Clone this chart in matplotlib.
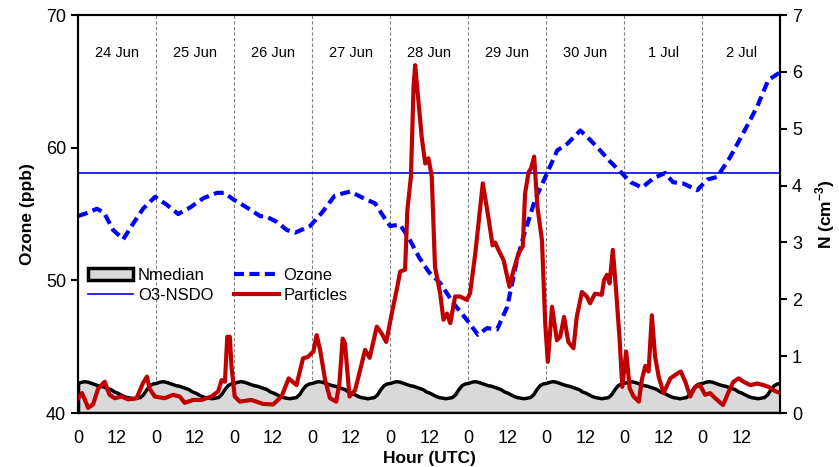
import numpy as np
import matplotlib
matplotlib.use('Agg')
import matplotlib.pyplot as plt
from matplotlib.patches import Patch
from matplotlib.lines import Line2D

plt.rcParams['font.family'] = ['Liberation Sans', 'DejaVu Sans']
plt.rcParams['mathtext.fontset'] = 'custom'
plt.rcParams['mathtext.rm'] = 'Liberation Sans:bold'
plt.rcParams['mathtext.bf'] = 'Liberation Sans:bold'

# ---- data (hours since 24 Jun 00 UTC) ----
day_labels = ['24 Jun', '25 Jun', '26 Jun', '27 Jun', '28 Jun',
              '29 Jun', '30 Jun', '1 Jul', '2 Jul']

o3_nsdo = 58.1

ozone_hour = [0, 3, 5.8, 8, 10.8, 13.9, 17, 20, 23.7, 27.3, 30.8, 34.5, 38.6,
              42.7, 45, 47.8, 51.9, 56, 58, 61.2, 64.2, 66.8, 71.4, 75, 79,
              83.7, 87.8, 91.4, 94, 96, 99, 101.5, 105, 108, 111.4, 115.4,
              120, 123, 125.8, 128.9, 132, 135, 137, 140.6, 144.3, 147.4,
              150.5, 154.5, 157.5, 160.6, 163.5, 166.8, 170, 173.5, 177,
              180.6, 183, 186.2, 190.5, 193.5, 196.6, 200.6, 204.6, 208.9,
              212.3, 215.4, 216]
ozone = [54.85, 55.1, 55.4, 55.1, 53.8, 53.1, 54.3, 55.4, 56.3, 55.7, 55.0,
         55.5, 56.2, 56.6, 56.6, 56.1, 55.5, 54.85, 54.8, 54.4, 53.8, 53.6,
         54.1, 55.1, 56.4, 56.7, 56.2, 55.8, 54.8, 54.1, 54.2, 53.3, 51.7,
         50.6, 49.8, 48.3, 46.9, 45.9, 46.4, 46.3, 48.0, 51.5, 53.3, 56.1,
         58.1, 59.8, 60.3, 61.3, 60.6, 59.8, 59.0, 58.2, 57.4, 57.0, 57.7,
         58.1, 57.4, 57.3, 56.8, 57.6, 57.8, 59.3, 61.1, 63.1, 65.1, 65.6,
         65.7]

part_hour = [0, 1.2, 2, 3.1, 4.6, 6.2, 8.2, 9.7, 11.3, 13.3, 15.4, 18, 20,
             21.2, 22, 23.6, 26.7, 29.2, 31.3, 32.8, 35.4, 38, 41, 43.1,
             44.2, 45.2, 45.9, 46.7, 47.2, 48.2, 49.8, 53.3, 56.9, 60, 62.6,
             64.8, 67.2, 69.2, 70.8, 71.8, 72.4, 73.4, 74.5, 76, 77.5, 79.4,
             80.4, 81.4, 82.1, 83.5, 85.2, 86.8, 88.3, 89.7, 91.9, 93.4, 94.8,
             96.5, 98, 99.1, 100.6, 101.3, 102.4, 103.2, 103.7, 104.4, 105.7,
             106.8, 107.8, 108.8, 109.8, 111.4, 112.4, 113.5, 114.5, 116,
             117.5, 119.6, 120.6, 122.2, 124.5, 126.2, 127.5, 128.3, 129.3,
             130.9, 132.7, 133.9, 135.5, 136.8, 137.5, 138.6, 139.3, 140.3,
             141.3, 142.7, 143.7, 144.5, 145.8, 147.3, 148.3, 149.5, 150.8,
             152.4, 153.4, 155, 156.5, 157.5, 159, 161.1, 161.8, 162.7, 163.5,
             164.5, 165.5, 166.6, 167.4, 168.6, 169.7, 170.9, 172.5, 173.4,
             174.5, 175.5, 176.5, 177.5, 178.6, 180.1, 182.2, 183.7, 185.4,
             186.8, 188.3, 189.8, 191.3, 192.9, 194.4, 196, 198.4, 200.1,
             201.6, 203.2, 204.7, 206.8, 208.9, 210.9, 212.4, 213.9, 216]
particles = [0.25, 0.35, 0.25, 0.09, 0.15, 0.43, 0.55, 0.32, 0.26, 0.29, 0.24,
             0.26, 0.53, 0.64, 0.43, 0.29, 0.26, 0.32, 0.29, 0.18, 0.23, 0.23,
             0.29, 0.38, 0.58, 0.55, 1.34, 1.34, 0.82, 0.29, 0.2, 0.23, 0.16,
             0.15, 0.29, 0.61, 0.49, 0.96, 0.99, 1.05, 1.08, 1.37, 1.1, 0.58,
             0.26, 0.2, 0.52, 1.31, 1.23, 0.29, 0.4, 0.76, 1.11, 0.97, 1.52,
             1.40, 1.25, 1.75, 2.16, 2.49, 2.52, 3.57, 4.16, 5.74, 6.12, 5.68,
             4.86, 4.39, 4.48, 4.16, 2.57, 2.1, 1.64, 1.75, 1.58, 2.05, 2.05,
             1.99, 2.11, 2.81, 4.04, 3.45, 2.95, 3.0, 2.87, 2.69, 2.22, 2.5,
             2.81, 2.93, 3.86, 4.24, 4.30, 4.51, 3.63, 3.04, 1.58, 0.90, 1.87,
             1.28, 1.34, 1.69, 1.25, 1.14, 1.69, 2.13, 2.05, 1.93, 2.1, 2.08,
             2.34, 2.43, 2.28, 2.87, 2.16, 1.28, 0.46, 1.08, 0.43, 0.29, 0.2,
             0.58, 0.83, 0.73, 1.72, 0.99, 0.64, 0.35, 0.61, 0.67, 0.73, 0.55,
             0.29, 0.46, 0.49, 0.32, 0.35, 0.26, 0.14, 0.37, 0.55, 0.61, 0.55,
             0.49, 0.52, 0.49, 0.46, 0.4, 0.35]

# median diurnal cycle of N (hour 0..23), repeated for every day
nmedian_day = [0.53, 0.55, 0.56, 0.55, 0.53, 0.51, 0.49, 0.48, 0.46, 0.44,
               0.42, 0.38, 0.36, 0.33, 0.30, 0.28, 0.27, 0.26, 0.27, 0.28,
               0.33, 0.42, 0.49, 0.52]
n_days = len(day_labels)

nmed_hour = np.arange(24 * n_days + 1)
nmedian = np.array(nmedian_day * n_days + [nmedian_day[0]])

# ---- figure ----
fig = plt.figure(figsize=(8.39, 4.67), dpi=100)
ax = fig.add_axes([0.093, 0.1156, 0.837, 0.852])
ax2 = ax.twinx()

for d in range(1, n_days):
    ax.axvline(24 * d, color='#808080', lw=0.8, ls=(0, (3, 2)), zorder=1)
for d, lab in enumerate(day_labels):
    ax.text(24 * d + 12, 0.905, lab, transform=ax.get_xaxis_transform(),
            ha='center', va='center', fontsize=10.5)

ax.axhline(o3_nsdo, color='#0000ff', lw=1.2, zorder=2)
ax.plot(ozone_hour, ozone, color='#0000ff', lw=3, ls=(0, (2.4, 1.3)), zorder=3)

ax2.fill_between(nmed_hour, nmedian, 0, facecolor='#d9d9d9', edgecolor='black',
                 lw=2.5, zorder=1)
ax2.plot(part_hour, particles, color='#c00000', lw=3, zorder=3,
         solid_joinstyle='round', solid_capstyle='round')

ax.set_xlim(0, 216)
ax.set_ylim(40, 70)
ax2.set_ylim(0, 7)

xt = np.arange(0, 217, 12)
ax.set_xticks(xt)
ax.set_xticklabels([str(int(t % 24)) if t < 216 else '' for t in xt])
ax.set_yticks([40, 50, 60, 70])
ax2.set_yticks(range(0, 8))

ax.tick_params(axis='x', direction='in', length=5, width=1.5, labelsize=13, pad=12)
ax.tick_params(axis='y', direction='out', length=5, width=1.5, labelsize=13)
ax2.tick_params(axis='y', direction='out', length=5, width=1.5, labelsize=13)

for a in (ax, ax2):
    for s in a.spines.values():
        s.set_linewidth(1.5)

ax.set_xlabel('Hour (UTC)', fontsize=12.5, fontweight='bold', labelpad=3)
ax.set_ylabel('Ozone (ppb)', fontsize=12.5, fontweight='bold', labelpad=8)
ax2.set_ylabel(r'N (cm$^{-3}$)', fontsize=12.5, fontweight='bold', labelpad=8)

handles = [Patch(facecolor='#d9d9d9', edgecolor='black', lw=2.5),
           Line2D([], [], color='#0000ff', lw=1.2),
           Line2D([], [], color='#0000ff', lw=3, ls=(0, (2.4, 1.3))),
           Line2D([], [], color='#c00000', lw=3)]
labels = ['Nmedian', 'O3-NSDO', 'Ozone', 'Particles']
ax2.legend(handles, labels, ncol=2, loc='upper left',
           bbox_to_anchor=(0.0, 0.39), frameon=False, fontsize=12,
           handlelength=2.7, handletextpad=0.3, columnspacing=1.2,
           labelspacing=0.3, borderaxespad=0.2)

fig.savefig('out.png', dpi=100)
